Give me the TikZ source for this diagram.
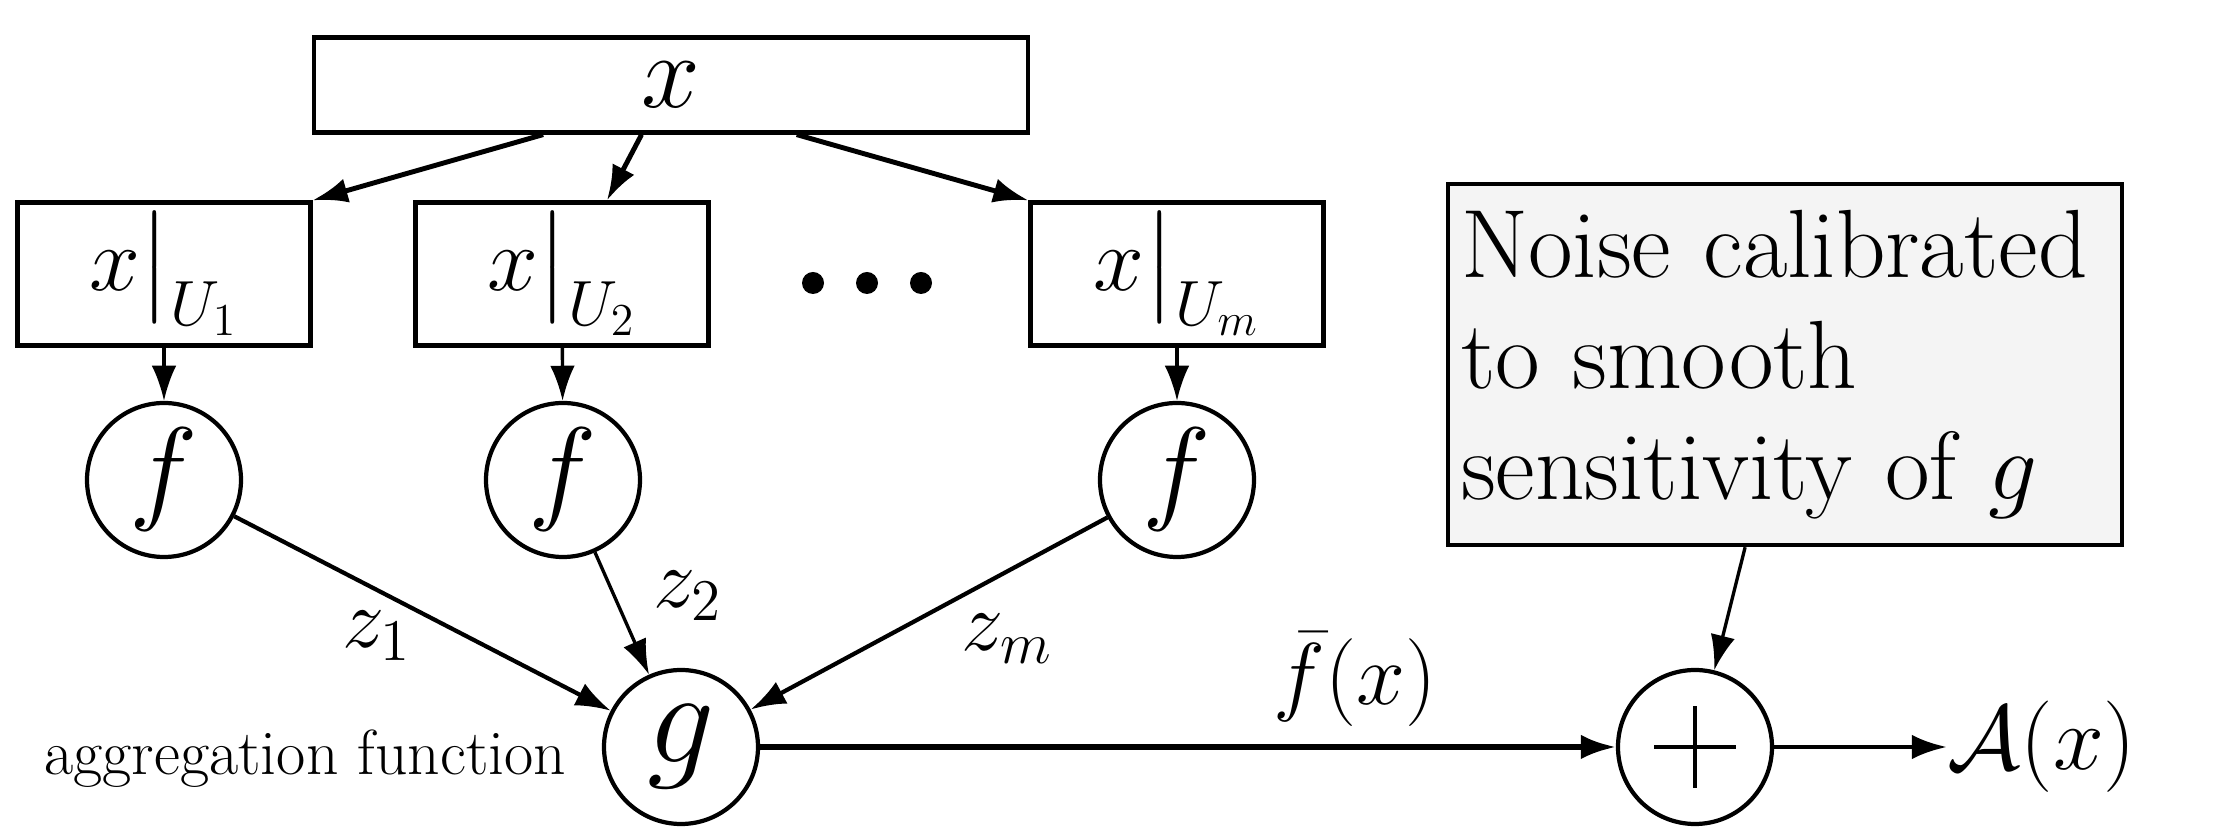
\RequirePackage{fix-cm}
\documentclass[tikz,border=0pt]{standalone}
\usepackage{amsmath,amssymb}
\usetikzlibrary{arrows.meta,positioning,calc}

\definecolor{noisebg}{gray}{0.955}

\tikzset{
  box/.style={draw,rectangle,line width=1.2pt,inner sep=0pt},
  fn/.style={draw,circle,line width=1.2pt,minimum size=1.54cm,inner sep=0pt},
  flow/.style={->,line width=1.4pt},
  feed/.style={->,line width=0.95pt},
}

\begin{document}
\begin{tikzpicture}[>={Latex[length=10pt,width=7pt]}]
      \useasboundingbox (0,0) rectangle (22.30,8.40);

      \coordinate (top) at (6.71,7.55);
      \coordinate (agg) at (6.81,0.93);

      \node[box,minimum width=7.14cm,minimum height=0.95cm,font=\fontsize{30}{36}\selectfont] (xbox) at (top) {$x$};

      \node[box,minimum width=2.93cm,minimum height=1.43cm,font=\fontsize{26}{31}\selectfont] (u1) at (1.64,5.66) {$x\big|_{U_1}$};
      \node[box,minimum width=2.93cm,minimum height=1.43cm,font=\fontsize{26}{31}\selectfont] (u2) at (5.62,5.66) {$x\big|_{U_2}$};
      \node[box,minimum width=2.93cm,minimum height=1.43cm,font=\fontsize{26}{31}\selectfont] (um) at (11.77,5.66) {$x\big|_{U_m}$};
      \foreach \dx in {8.13,8.67,9.21}
        \fill (\dx,5.57) circle (0.11);

      \node[fn,font=\fontsize{33}{40}\selectfont] (f1) at (1.64,3.60) {$f$};
      \node[fn,font=\fontsize{33}{40}\selectfont] (f2) at (5.63,3.60) {$f$};
      \node[fn,font=\fontsize{33}{40}\selectfont] (fm) at (11.77,3.60) {$f$};

      \node[fn,font=\fontsize{38}{46}\selectfont] (g) at (agg) {$g$};
      \node[anchor=base east,inner sep=0pt,font=\fontsize{18.1}{22}\selectfont] (aggtext) at (5.67,0.65) {aggregation function};

      \node[fn] (plus) at (16.95,0.93) {};
      \draw[line width=1.2pt] ($(plus)+(-0.41,0)$) -- ($(plus)+(0.41,0)$);
      \draw[line width=1.2pt] ($(plus)+(0,-0.41)$) -- ($(plus)+(0,0.41)$);

      \node[box,fill=noisebg,anchor=north west,minimum height=3.61cm,
            text width=6.48cm,inner xsep=0.13cm,align=left,
            font=\fontsize{27.6}{31.5}\selectfont] (noise) at (14.46,6.58)
            {Noise calibrated\\ to smooth\\ sensitivity of $g$};

      \node[anchor=west,inner sep=0pt,font=\fontsize{26}{31}\selectfont] (ax) at (19.47,0.93) {$\mathcal{A}(x)$};

      % labels on the links
      \node[font=\fontsize{24}{29}\selectfont] (z1) at (3.77,2.04) {$z_1$};
      \node[font=\fontsize{24}{29}\selectfont] (z2) at (6.88,2.44) {$z_2$};
      \node[font=\fontsize{24}{29}\selectfont] (zm) at (10.07,2.01) {$z_m$};
      \node[font=\fontsize{25}{30}\selectfont] (fbar) at (13.55,1.61) {$\bar{f}(x)$};

      \draw[flow] ($(xbox.south west)!0.322!(xbox.south east)$) -- (u1.north east);
      \draw[flow] ($(xbox.south west)!0.459!(xbox.south east)$) -- ($(u2.north)+(0.45,0)$);
      \draw[flow] ($(xbox.south west)!0.675!(xbox.south east)$) -- (um.north west);

      \draw[feed] (u1) -- (f1);
      \draw[feed] (u2) -- (f2);
      \draw[feed] (um) -- (fm);

      \draw[->,line width=1.2pt] (f1) -- (g);
      \draw[feed] (f2) -- (g);
      \draw[->,line width=1.2pt] (fm) -- (g);

      \draw[flow,line width=1.6pt] (g) -- (plus);
      \draw[feed] ($(noise.south)+(-0.40,0)$) -- (plus);
      \draw[flow] (plus) -- (ax);
\end{tikzpicture}
\end{document}
